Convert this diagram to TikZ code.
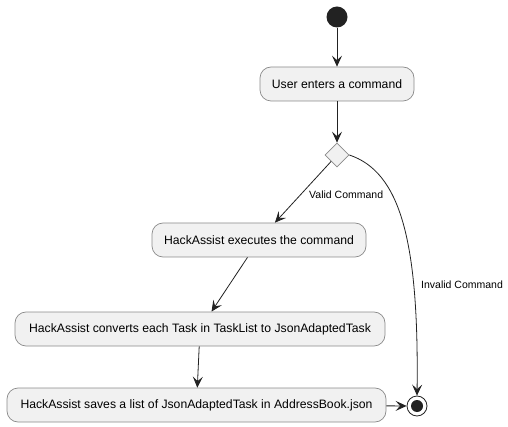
\documentclass[tikz,border=0pt]{standalone}
\usepackage{fontspec}
\setmainfont{Liberation Sans}
\usetikzlibrary{shapes.geometric,arrows.meta}
\definecolor{boxfill}{HTML}{F1F1F1}
\definecolor{boxline}{HTML}{8A8A8A}
\definecolor{dark}{HTML}{222222}
\begin{document}
\begin{tikzpicture}[x=1pt,y=-1pt,
  act/.style={draw=boxline,fill=boxfill,rounded corners=11pt,minimum height=34pt,inner sep=0pt,font=\fontsize{12.2}{14}\selectfont,line width=0.7pt},
  flow/.style={draw=dark,line width=0.8pt,-{Stealth[length=11pt,width=10pt,inset=4.5pt]}},
  lbl/.style={font=\fontsize{10.5}{12}\selectfont,inner sep=0pt}]
\useasboundingbox (0,0) rectangle (508,427);
\node[circle,fill=dark,minimum size=21pt,inner sep=0pt] (start) at (337,17) {};
\node[act,minimum width=154pt] (b1) at (337,84) {User enters a command};
\node[diamond,draw=boxline,fill=boxfill,minimum size=24pt,inner sep=0pt,line width=0.7pt] (d) at (337,155) {};
\node[act,minimum width=214pt] (b2) at (259,240) {HackAssist executes the command};
\node[act,minimum width=370pt] (b3) at (200,329) {HackAssist converts each Task in TaskList to JsonAdaptedTask};
\node[act,minimum width=379pt] (b4) at (196.5,405) {HackAssist saves a list of JsonAdaptedTask in AddressBook.json};
\node[circle,draw=dark,fill=white,line width=0.8pt,minimum size=20pt,inner sep=0pt] (end) at (417,406) {};
\node[circle,fill=dark,minimum size=12pt,inner sep=0pt] (endin) at (417,406) {};
\draw[flow] (start) -- (b1);
\draw[flow] (b1) -- (d);
\draw[flow] (d) -- (b2);
\draw[flow] (b2) -- (b3);
\draw[flow] (b3) -- (b4);
\draw[flow] (b4) -- (end);
\draw[flow] (d.east) .. controls (400,172) and (419,240) .. (end.north);
\node[lbl,anchor=west] (lv) at (309,195) {Valid Command};
\node[lbl,anchor=west] (li) at (421,285) {Invalid Command};
\end{tikzpicture}
\end{document}
